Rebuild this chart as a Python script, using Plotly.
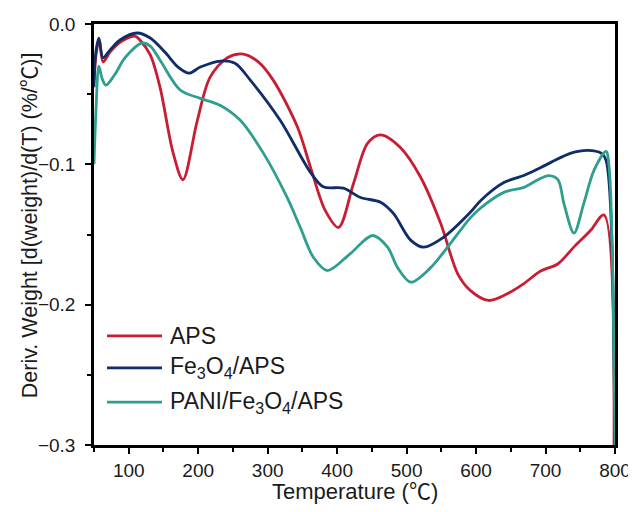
import plotly.graph_objects as go

series_names = ["APS", "Fe<sub>3</sub>O<sub>4</sub>/APS", "PANI/Fe<sub>3</sub>O<sub>4</sub>/APS"]
series_colors = ["#C81D32", "#0F2D69", "#2E9E8E"]

aps_x = [50, 52.9, 57.6, 63, 73, 87.5, 109, 116, 131, 145, 164, 178, 198.6, 217, 242, 265, 286.5, 308,
         343, 361.6, 383, 402, 423.6, 443.8, 462.5, 491, 520, 549, 573.6, 592, 618, 645.7, 668.8, 693,
         717.6, 740.7, 765, 784, 798.6]
aps_y = [-0.040, -0.022, -0.0114, -0.027, -0.020, -0.013, -0.0086, -0.0114, -0.022, -0.045, -0.092, -0.111,
         -0.069, -0.038, -0.024, -0.0214, -0.027, -0.040, -0.0736, -0.102, -0.133, -0.145, -0.1136, -0.085,
         -0.079, -0.088, -0.109, -0.142, -0.178, -0.190, -0.197, -0.192, -0.185, -0.176, -0.171, -0.159,
         -0.147, -0.136, -0.300]

fe_x = [50, 52.9, 57, 63, 73, 87.5, 112, 131, 152, 171, 187, 203, 232, 253, 275, 318, 361.6, 380, 409,
        433.7, 462.5, 481, 505.8, 524.5, 553, 592, 606.8, 640, 668.8, 679, 707.7, 736.6, 761, 780, 787, 799.5]
fe_y = [-0.045, -0.019, -0.010, -0.024, -0.0186, -0.0114, -0.0064, -0.010, -0.020, -0.0307, -0.035, -0.0307,
        -0.0264, -0.028, -0.040, -0.0686, -0.1057, -0.116, -0.117, -0.1236, -0.127, -0.135, -0.154, -0.159,
        -0.152, -0.134, -0.1257, -0.113, -0.108, -0.1057, -0.0986, -0.092, -0.090, -0.092, -0.097, -0.300]

pani_x = [50, 52.9, 57, 61.5, 67, 80, 94.7, 119, 131, 145, 174, 203, 232, 260.6, 293.8, 328, 347, 366, 386,
          419, 451, 472.6, 487, 506, 534.6, 559, 592, 606.8, 640, 668.8, 689, 705, 718, 726.5, 741, 755,
          770, 787, 791.5, 800]
pani_y = [-0.100, -0.061, -0.030, -0.0386, -0.0436, -0.036, -0.024, -0.0136, -0.0157, -0.0257, -0.047,
          -0.053, -0.058, -0.0686, -0.092, -0.1236, -0.145, -0.1664, -0.1757, -0.1636, -0.1507, -0.159,
          -0.1736, -0.184, -0.1736, -0.159, -0.138, -0.131, -0.120, -0.1164, -0.111, -0.108, -0.111, -0.128,
          -0.149, -0.128, -0.104, -0.0907, -0.102, -0.300]

x_ticks = [100, 200, 300, 400, 500, 600, 700, 800]
y_ticks = [0.0, -0.1, -0.2, -0.3]
celsius = "<span style='font-family:Noto Sans CJK SC'>℃</span>"
x_title = "Temperature (" + celsius + ")"
y_title = "Deriv. Weight [d(weight)/d(T) (%/" + celsius + ")]"

font_family = "Arial, Liberation Sans, Noto Sans CJK SC, sans-serif"
text_color = "#1a1a1a"

fig = go.Figure()
for name, color, xs, ys in zip(series_names, series_colors, [aps_x, fe_x, pani_x], [aps_y, fe_y, pani_y]):
    fig.add_trace(go.Scatter(x=xs, y=ys, mode="lines", name=name, showlegend=False,
                             line=dict(color=color, width=2.8, shape="spline", smoothing=0.9)))

axis_common = dict(showline=True, linecolor="black", linewidth=2.5, mirror=True,
                   ticks="outside", ticklen=6, tickwidth=2, tickcolor="black",
                   showgrid=False, zeroline=False, automargin=False,
                   tickfont=dict(size=19, color=text_color, family=font_family))

fig.update_xaxes(range=[50, 800], tickvals=x_ticks,
                 minor=dict(ticks="outside", ticklen=4, tickwidth=2, tickcolor="black", dtick=50, tick0=50),
                 **axis_common)
fig.update_yaxes(range=[-0.3, 0.0], tickvals=y_ticks, tickformat=".1f", ticklabelstandoff=6,
                 minor=dict(ticks="outside", ticklen=4, tickwidth=2, tickcolor="black", dtick=0.05),
                 **axis_common)

# axis titles
fig.add_annotation(text=x_title, xref="paper", yref="paper", x=0.5, y=-0.104,
                   xanchor="center", yanchor="middle", showarrow=False,
                   font=dict(size=22, color=text_color, family=font_family))
fig.add_annotation(text=y_title, xref="paper", yref="paper", x=-0.1286, y=0.522,
                   xanchor="center", yanchor="middle", showarrow=False, textangle=-90,
                   font=dict(size=21.5, color=text_color, family=font_family))

# legend (drawn in paper coordinates)
legend_rows = [0.259, 0.183, 0.102]
for name, color, ly in zip(series_names, series_colors, legend_rows):
    fig.add_shape(type="line", xref="paper", yref="paper", x0=0.025, x1=0.1305, y0=ly, y1=ly,
                  line=dict(color=color, width=2.8))
    fig.add_annotation(text=name, xref="paper", yref="paper", x=0.142, y=ly,
                       xanchor="left", yanchor="middle", showarrow=False,
                       font=dict(size=23, color=text_color, family=font_family))

# page body has an 8px default margin, so the figure is sized/margined to compensate
fig.update_layout(
    width=628, height=504,
    margin=dict(l=86, r=21, t=16, b=67),
    paper_bgcolor="white", plot_bgcolor="white",
    font=dict(family=font_family, color=text_color),
    showlegend=False,
)

fig.write_html("out.html")
